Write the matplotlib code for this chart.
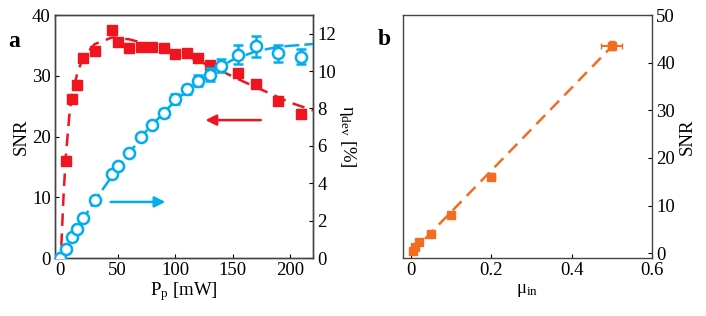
import matplotlib.pyplot as plt

# panel a: SNR (left axis) and eta_dev (right axis) vs pump power
p_snr = [5, 10, 15, 20, 30, 45, 50, 60, 70, 80, 90, 100, 110, 120, 130, 155, 170, 190, 210]
snr = [16.0, 26.2, 28.4, 33.0, 34.1, 37.5, 35.6, 34.5, 34.8, 34.7, 34.6, 33.5, 33.7, 33.0, 31.7, 30.5, 28.7, 25.9, 23.7]

p_fit_snr = [1, 3, 5, 8, 10, 15, 20, 30, 45, 60, 80, 100, 120, 140, 160, 180, 200, 220]
snr_fit = [2.0, 10.5, 17.0, 23.5, 26.5, 30.5, 33.0, 35.2, 36.3, 36.0, 35.0, 34.0, 32.5, 30.8, 29.0, 27.3, 25.6, 24.3]

p_eta = [0, 5, 10, 15, 20, 30, 45, 50, 60, 70, 80, 90, 100, 110, 120, 130, 140, 155, 170, 190, 210]
eta = [0.0, 0.5, 1.1, 1.55, 2.13, 3.1, 4.48, 4.9, 5.64, 6.5, 7.12, 7.75, 8.5, 9.03, 9.48, 9.8, 10.28, 10.87, 11.32, 10.96, 10.78]
eta_err = [0.05, 0.05, 0.05, 0.05, 0.05, 0.1, 0.1, 0.1, 0.1, 0.15, 0.15, 0.2, 0.25, 0.25, 0.3, 0.35, 0.35, 0.5, 0.55, 0.45, 0.4]

p_fit_eta = [0, 10, 20, 35, 50, 75, 100, 115, 130, 150, 170, 190, 220]
eta_fit = [0.0, 1.05, 2.1, 3.5, 4.8, 6.8, 8.4, 9.2, 9.9, 10.6, 11.05, 11.3, 11.45]

# panel b: SNR vs mu_in
mu_in = [0.005, 0.01, 0.02, 0.05, 0.1, 0.2, 0.5]
snr_b = [0.5, 1.3, 2.3, 4.1, 8.0, 16.1, 43.6]
mu_err = [0.002, 0.002, 0.003, 0.004, 0.005, 0.008, 0.026]
snr_b_err = [0.3, 0.3, 0.4, 0.5, 0.6, 0.8, 1.0]
mu_fit = [0.0, 0.5]
snr_b_fit = [0.0, 43.4]

RED = '#f0141e'
BLUE = '#00aeef'
ORANGE = '#f26d21'

plt.rcParams['font.family'] = ['Liberation Serif', 'DejaVu Serif']
plt.rcParams['mathtext.fontset'] = 'custom'
plt.rcParams['mathtext.rm'] = 'Liberation Serif'
plt.rcParams['mathtext.it'] = 'Liberation Serif:italic'
plt.rcParams['font.size'] = 13.5
plt.rcParams['axes.edgecolor'] = '#444444'
plt.rcParams['axes.linewidth'] = 1.0

fig = plt.figure(figsize=(7.06, 3.16), dpi=100)
ax = fig.add_axes([0.0779, 0.1835, 0.3654, 0.769])
ax2 = ax.twinx()

ax.plot(p_fit_snr, snr_fit, color=RED, lw=1.8, dashes=(5, 3), zorder=2)
ax.plot(p_snr, snr, 's', color=RED, ms=6.5, zorder=3)
ax.annotate('', xy=(124, 22.7), xytext=(177, 22.7),
            arrowprops=dict(arrowstyle='-|>', color=RED, lw=1.8, mutation_scale=16))
ax.set_xlim(-4.5, 220)
ax.set_ylim(0, 40)
ax.set_xticks([0, 50, 100, 150, 200])
ax.set_yticks([0, 10, 20, 30, 40])
ax.set_xlabel(r'P$_{\mathrm{p}}$ [mW]', labelpad=1)
ax.set_ylabel('SNR', labelpad=2)
ax.tick_params(direction='in', length=3, top=False, right=False, pad=3)

ax2.plot(p_fit_eta, eta_fit, color=BLUE, lw=1.8, dashes=(6, 2), zorder=2)
ax2.errorbar(p_eta, eta, yerr=eta_err, fmt='o', color=BLUE, mfc='white', mec=BLUE,
             mew=1.8, ms=8, ecolor=BLUE, elinewidth=1.8, capsize=3.5, capthick=1.8, zorder=3)
ax2.annotate('', xy=(94, 3.0), xytext=(41.5, 3.0),
             arrowprops=dict(arrowstyle='-|>', color=BLUE, lw=1.8, mutation_scale=16))
ax2.set_ylim(0, 13)
ax2.set_yticks([0, 2, 4, 6, 8, 10, 12])
ax2.set_ylabel(r'$\mathrm{\eta_{dev}}$ [%]', rotation=270, labelpad=16)
ax2.tick_params(direction='in', length=3, pad=3)
ax2.set_clip_on(False)

fig.text(0.012, 0.87, 'a', fontsize=17, fontweight='bold', va='center')

bx = fig.add_axes([0.5708, 0.1835, 0.3527, 0.769])
bx.plot(mu_fit, snr_b_fit, color=ORANGE, lw=1.8, dashes=(5, 3), zorder=2)
bx.errorbar(mu_in, snr_b, xerr=mu_err, yerr=snr_b_err, fmt='s', color=ORANGE, ms=6,
            ecolor=ORANGE, elinewidth=1.5, capsize=2.5, zorder=3)
bx.set_xlim(-0.02, 0.6)
bx.set_ylim(-1, 50)
bx.set_xticks([0, 0.2, 0.4, 0.6])
bx.set_xticklabels(['0', '0.2', '0.4', '0.6'])
bx.set_yticks([0, 10, 20, 30, 40, 50])
bx.yaxis.tick_right()
bx.yaxis.set_label_position('right')
bx.set_ylabel('SNR', labelpad=3)
bx.set_xlabel(r'$\mathrm{\mu_{in}}$', labelpad=2)
bx.tick_params(direction='in', length=3, left=False, top=False, pad=3)

fig.text(0.535, 0.875, 'b', fontsize=17, fontweight='bold', va='center')

fig.savefig('out.png', dpi=100)
